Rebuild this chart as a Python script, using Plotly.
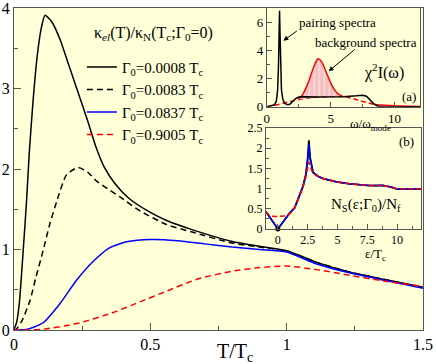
import plotly.graph_objects as go

# ---------------- main panel data ----------------
T_a = [0, 0.01, 0.02, 0.034, 0.046, 0.056, 0.07, 0.085, 0.1, 0.114, 0.14, 0.17, 0.2, 0.235,
       0.27, 0.3, 0.33, 0.37, 0.42, 0.5, 0.56, 0.65, 0.8, 0.9, 1.0, 1.11, 1.23, 1.354, 1.5]
k_a = [0, 0.1, 0.35, 1.0, 1.6, 2.2, 2.85, 3.4, 3.75, 3.91, 3.82, 3.6, 3.3, 2.95,
       2.6, 2.28, 2.03, 1.82, 1.64, 1.46, 1.36, 1.25, 1.10, 1.04, 0.985, 0.84, 0.72, 0.63, 0.53]

T_b = [0, 0.006, 0.03, 0.059, 0.08, 0.107, 0.13, 0.157, 0.193, 0.236, 0.27, 0.303, 0.35, 0.39,
       0.462, 0.56, 0.65, 0.8, 0.9, 1.0, 1.11, 1.23, 1.354, 1.5]
k_b = [0, 0, 0.12, 0.37, 0.65, 0.99, 1.3, 1.6, 1.93, 2.02, 1.96, 1.85, 1.74, 1.65,
       1.48, 1.31, 1.22, 1.08, 1.03, 0.98, 0.84, 0.72, 0.63, 0.53]

T_c = [0, 0.011, 0.05, 0.107, 0.169, 0.23, 0.29, 0.35, 0.413, 0.5, 0.6, 0.7, 0.8, 0.9,
       1.0, 1.11, 1.23, 1.354, 1.5]
k_c = [0, 0, 0.01, 0.09, 0.33, 0.62, 0.85, 1.02, 1.095, 1.125, 1.11, 1.07, 1.03, 1.0,
       0.97, 0.82, 0.71, 0.62, 0.52]

T_d = [0, 0.05, 0.107, 0.23, 0.35, 0.462, 0.55, 0.68, 0.8, 0.9, 1.0, 1.11, 1.23, 1.354, 1.5]
k_d = [0, 0, 0.01, 0.08, 0.2, 0.35, 0.47, 0.64, 0.73, 0.775, 0.795, 0.75, 0.68, 0.61, 0.54]

legend_labels = ["Γ<sub>0</sub>=0.0008 T<sub>c</sub>", "Γ<sub>0</sub>=0.0083 T<sub>c</sub>",
                 "Γ<sub>0</sub>=0.0837 T<sub>c</sub>", "Γ<sub>0</sub>=0.9005 T<sub>c</sub>"]
legend_title = "κ<sub><i>el</i></sub>(T)/κ<sub>N</sub>(T<sub>c</sub>;Γ<sub>0</sub>=0)"

# ---------------- inset (a) data ----------------
om_pair = [0, 0.3, 0.6, 0.75, 0.85, 0.92, 0.97, 1.0, 1.03, 1.08, 1.15, 1.25, 1.4, 1.6, 1.8, 2.0,
           2.2, 2.5, 3, 4, 5, 6, 7, 7.5, 7.8, 8.1, 8.4, 8.7, 9, 10, 12]
chi_pair = [0, 0.05, 0.15, 0.4, 1.2, 3.0, 5.5, 6.8, 5.5, 2.8, 1.2, 0.55, 0.25, 0.15, 0.18, 0.35,
            0.55, 0.7, 0.72, 0.7, 0.7, 0.72, 0.78, 0.82, 0.75, 0.5, 0.2, 0.05, 0.02, 0.0, 0.0]

om_bg = [0, 1, 2, 2.5, 3, 4, 5, 5.5, 6, 6.5, 7, 7.5, 8, 8.5]
chi_bg = [0, 0.18, 0.42, 0.52, 0.6, 0.7, 0.75, 0.78, 0.75, 0.65, 0.52, 0.38, 0.25, 0.15]

om_peak = [2.5, 2.8, 3.0, 3.3, 3.6, 3.8, 4.0, 4.2, 4.4, 4.7, 5.0, 5.3, 5.6, 5.9]
chi_peak = [0.55, 0.85, 1.2, 1.85, 2.65, 3.1, 3.4, 3.3, 3.0, 2.35, 1.7, 1.2, 0.9, 0.78]
chi_peak_base = [0.52, 0.57, 0.6, 0.63, 0.66, 0.68, 0.7, 0.71, 0.72, 0.74, 0.75, 0.76, 0.77, 0.76]

om_tail = [8.5, 9, 10, 11, 12]
chi_tail = [0.15, 0.11, 0.07, 0.05, 0.03]

# ---------------- inset (b) data ----------------
eps = [-1, -0.5, 0, 0.5, 1.0, 1.4, 1.8, 2.1, 2.35, 2.5, 2.6, 2.7, 2.95, 3.4, 3.8, 4.9, 6.0,
       7.7, 8.8, 9.5, 10, 11, 12]
ns_black = [0.43, 0.21, 0.0, 0.2, 0.4, 0.52, 0.8, 1.05, 1.35, 1.75, 2.2, 1.78, 1.4, 1.3, 1.25,
            1.17, 1.12, 1.075, 1.08, 1.04, 0.99, 0.99, 0.99]
ns_blue = [0.43, 0.21, 0.01, 0.2, 0.4, 0.52, 0.8, 1.05, 1.35, 1.7, 2.1, 1.75, 1.4, 1.3, 1.25,
           1.17, 1.12, 1.075, 1.08, 1.04, 0.99, 0.99, 0.99]
eps_r = [-1, -0.7, -0.3, 0, 0.3, 0.7, 1.0, 1.4, 1.8, 2.1, 2.35, 2.5, 2.6, 2.7, 2.95, 3.4, 3.8,
         4.9, 6.0, 7.7, 8.8, 9.5, 10, 11, 12]
ns_red = [0.43, 0.33, 0.31, 0.31, 0.31, 0.32, 0.38, 0.52, 0.8, 1.03, 1.3, 1.5, 1.66, 1.55, 1.38,
          1.29, 1.25, 1.17, 1.12, 1.075, 1.08, 1.04, 0.99, 0.99, 0.99]

BLUE = "#0000ff"
RED = "#ff0000"
FRAME = "#555555"
FONT = "Liberation Serif"

fig = go.Figure()

# main curves
main_specs = [(T_a, k_a, "black", "solid"), (T_b, k_b, "black", "6px,4px"),
              (T_c, k_c, BLUE, "solid"), (T_d, k_d, RED, "6px,4px")]
for (tx, ky, col, dash), lab in zip(main_specs, legend_labels):
    fig.add_trace(go.Scatter(x=tx, y=ky, mode="lines", name=lab,
                             line=dict(color=col, width=1.5, dash=dash, shape="spline", smoothing=0.6),
                             xaxis="x", yaxis="y"))

# inset (a)
fig.add_trace(go.Scatter(x=om_bg, y=chi_bg, mode="lines", showlegend=False,
                         line=dict(color=RED, width=1.5, dash="5px,3px"), xaxis="x2", yaxis="y2"))
fig.add_trace(go.Scatter(x=om_peak, y=chi_peak_base, mode="lines", showlegend=False,
                         line=dict(width=0, color="rgba(0,0,0,0)"), xaxis="x2", yaxis="y2"))
fig.add_trace(go.Scatter(x=om_peak, y=chi_peak, mode="lines", showlegend=False, fill="tonexty",
                         fillcolor="#f6c6c6",
                         fillpattern=dict(shape="|", fgcolor="#ffffff", bgcolor="#f5c0c0",
                                          size=5, solidity=0.25),
                         line=dict(color=RED, width=1.5, shape="spline", smoothing=0.6),
                         xaxis="x2", yaxis="y2"))
fig.add_trace(go.Scatter(x=om_tail, y=chi_tail, mode="lines", showlegend=False,
                         line=dict(color=RED, width=1.5), xaxis="x2", yaxis="y2"))
fig.add_trace(go.Scatter(x=om_pair, y=chi_pair, mode="lines", showlegend=False,
                         line=dict(color="black", width=1.5), xaxis="x2", yaxis="y2"))

# inset (b)
fig.add_trace(go.Scatter(x=eps, y=ns_black, mode="lines", showlegend=False,
                         line=dict(color="black", width=1.8), xaxis="x3", yaxis="y3"))
fig.add_trace(go.Scatter(x=eps, y=ns_blue, mode="lines", showlegend=False,
                         line=dict(color=BLUE, width=1.5), xaxis="x3", yaxis="y3"))
fig.add_trace(go.Scatter(x=eps_r, y=ns_red, mode="lines", showlegend=False,
                         line=dict(color=RED, width=1.5, dash="5px,3px"), xaxis="x3", yaxis="y3"))
fig.add_trace(go.Scatter(x=[eps[2]], y=[ns_black[2]], mode="markers", showlegend=False,
                         marker=dict(color="black", size=5), xaxis="x3", yaxis="y3",
                         cliponaxis=False))

common = dict(showgrid=False, zeroline=False, showline=True, mirror=True, linecolor=FRAME,
              linewidth=1, ticks="inside", tickcolor=FRAME, automargin=False,
              ticklabeloverflow="allow")

fig.update_layout(
    width=436, height=364,
    margin=dict(l=14, r=13, t=8, b=34, autoexpand=False),
    plot_bgcolor="#ffffd8", paper_bgcolor="white",
    font=dict(family=FONT, color="black"),
    xaxis=dict(domain=[0, 1], range=[0, 1.5], tickvals=[0, 0.5, 1, 1.5],
               ticktext=["0", "0.5", "1", "1.5"], ticklen=7,
               minor=dict(dtick=0.25, ticks="inside", ticklen=4, tickcolor=FRAME),
               tickfont=dict(size=16), **common),
    yaxis=dict(domain=[0, 1], range=[0, 4], tickvals=[0, 1, 2, 3, 4], ticklen=7,
               minor=dict(dtick=0.5, ticks="inside", ticklen=4, tickcolor=FRAME),
               tickfont=dict(size=16), **common),
    xaxis2=dict(domain=[0.618, 0.993], range=[0, 12], anchor="y2", tickvals=[0, 5, 10],
                ticklen=5, minor=dict(dtick=2.5, ticks="inside", ticklen=3, tickcolor=FRAME),
                tickfont=dict(size=13), **common),
    yaxis2=dict(domain=[0.693, 1.0], range=[0, 7], anchor="x2", tickvals=[0, 2, 4, 6],
                ticklen=5, minor=dict(dtick=1, ticks="inside", ticklen=3, tickcolor=FRAME),
                tickfont=dict(size=13), **common),
    xaxis3=dict(domain=[0.616, 0.995], range=[-1, 12], anchor="y3",
                tickvals=[0, 2.5, 5, 7.5, 10], ticklen=5,
                minor=dict(dtick=1.25, ticks="inside", ticklen=3, tickcolor=FRAME),
                tickfont=dict(size=12), **common),
    yaxis3=dict(domain=[0.3137, 0.627], range=[0, 2.5], anchor="x3",
                tickvals=[0, 0.5, 1, 1.5, 2, 2.5], ticktext=["0", "0.5", "1", "1.5", "2", "2.5"],
                ticklen=5, minor=dict(dtick=0.25, ticks="inside", ticklen=3, tickcolor=FRAME),
                tickfont=dict(size=12), **common),
    legend=dict(x=0.166, y=0.867, xanchor="left", yanchor="top", bgcolor="rgba(0,0,0,0)",
                font=dict(size=15, family=FONT), itemwidth=30, tracegroupgap=0,
                traceorder="normal"),
    shapes=[
        dict(type="rect", xref="x2 domain", yref="y2 domain", x0=0, x1=1, y0=0, y1=1,
             fillcolor="white", line=dict(width=0), layer="below"),
        dict(type="rect", xref="x3 domain", yref="y3 domain", x0=0, x1=1, y0=0, y1=1,
             fillcolor="white", line=dict(width=0), layer="below"),
    ],
    annotations=[
        dict(text=legend_title, x=0.19, xref="paper", xanchor="left", y=0.92, yref="paper",
             yanchor="middle", showarrow=False, font=dict(size=16)),
        dict(text="T/T<sub>c</sub>", x=0.81, xref="x", y=0, yref="paper", yanchor="top",
             yshift=-8, showarrow=False, font=dict(size=20)),
        dict(text="ω/ω<sub>mode</sub>", x=8.1, xref="x2", y=0, yref="y2 domain", yanchor="top",
             yshift=-7, showarrow=False, font=dict(size=13)),
        dict(text="ε/T<sub>c</sub>", x=8.15, xref="x3", y=0, yref="y3 domain", yanchor="top",
             yshift=-15, showarrow=False, font=dict(size=13)),
        dict(text="", x=1.3, y=4.68, xref="x2", yref="y2", ax=2.47, ay=5.45,
             axref="x2", ayref="y2", showarrow=True, arrowhead=2, arrowsize=1, arrowwidth=1,
             arrowcolor="black"),
        dict(text="pairing spectra", x=5.5, y=5.95, xref="x2", yref="y2", showarrow=False,
             font=dict(size=13)),
        dict(text="background spectra", x=7.76, y=4.58, xref="x2", yref="y2", showarrow=False,
             font=dict(size=13)),
        dict(text="", x=4.84, y=2.52, xref="x2", yref="y2", ax=7.0, ay=4.15,
             axref="x2", ayref="y2", showarrow=True, arrowhead=2, arrowsize=1, arrowwidth=1,
             arrowcolor="black"),
        dict(text="χ<sup>2</sup>I(ω)", x=9.2, y=2.52, xref="x2", yref="y2", showarrow=False,
             font=dict(size=16)),
        dict(text="(a)", x=11.15, y=0.75, xref="x2", yref="y2", showarrow=False,
             font=dict(size=13)),
        dict(text="(b)", x=10.8, y=2.18, xref="x3", yref="y3", showarrow=False,
             font=dict(size=13)),
        dict(text="N<sub>S</sub>(ε;Γ<sub>0</sub>)/N<sub>f</sub>", x=7.4, y=0.6, xref="x3",
             yref="y3", showarrow=False, font=dict(size=15)),
    ],
)

fig.write_html("out.html", config={"displayModeBar": False},
               post_script="document.body.style.margin='0';document.body.style.overflow='hidden';")
